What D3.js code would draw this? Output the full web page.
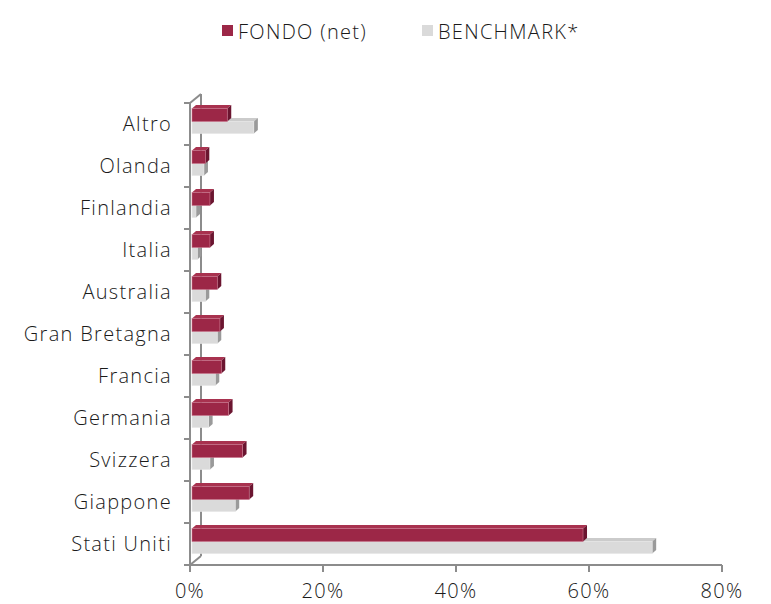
<!DOCTYPE html>
<html>
<head>
<meta charset="utf-8">
<script src="https://cdn.jsdelivr.net/npm/d3@7"></script>
<style>
  body { margin: 0; background: #fff; }
  svg text { font-family: "Open Sans", sans-serif; font-weight: 300; fill: #1a1a1a;
             font-size: 20px; letter-spacing: 1.3px; }
</style>
</head>
<body>
<svg id="chart" width="771" height="604"></svg>
<script>
// ---- Dati
const categories = ["Altro", "Olanda", "Finlandia", "Italia", "Australia", "Gran Bretagna",
                    "Francia", "Germania", "Svizzera", "Giappone", "Stati Uniti"];
const fondo     = [5.3, 2.0, 2.7, 2.7, 3.8, 4.2, 4.4, 5.5, 7.6, 8.6, 58.8];
const benchmark = [9.3, 1.8, 0.6, 0.8, 2.0, 3.8, 3.5, 2.5, 2.7, 6.5, 69.2];
const xTicks = [0, 20, 40, 60, 80];
const seriesNames = ["FONDO (net)", "BENCHMARK*"];

const svg = d3.select("#chart");
const axisColor = "#8c8c8c";

// ---- Scale
const mapX = d3.scaleLinear().domain([0, 80]).range([190, 722]);
const mapY = d3.scaleBand().domain(categories).range([103, 565]);
const depth = { dx: 11, dy: -9 };      // profondita della parete
const barDepth = { dx: 4, dy: -3.5 };  // profondita delle barre
const bx = 2;

// ---- Parete / assi 3D
svg.append("line") // linea posteriore
    .attr("x1", mapX(0) + depth.dx).attr("y1", 103 + depth.dy)
    .attr("x2", mapX(0) + depth.dx).attr("y2", 565 + depth.dy)
    .attr("stroke", axisColor).attr("stroke-width", 2);
svg.append("line")
    .attr("x1", mapX(0)).attr("y1", 103)
    .attr("x2", mapX(0) + depth.dx).attr("y2", 103 + depth.dy)
    .attr("stroke", axisColor).attr("stroke-width", 2);
svg.append("line")
    .attr("x1", mapX(0)).attr("y1", 565)
    .attr("x2", mapX(0) + depth.dx).attr("y2", 565 + depth.dy)
    .attr("stroke", axisColor).attr("stroke-width", 2);

// ---- Barre 3D
function bar3d(g, x0, x1, y0, y1, cols) {
    const { dx, dy } = barDepth;
    g.append("path") // lato superiore
        .attr("d", `M${x0},${y0}L${x0 + dx},${y0 + dy}L${x1 + dx},${y0 + dy}L${x1},${y0}Z`)
        .attr("fill", cols.top);
    g.append("path") // lato destro
        .attr("d", `M${x1},${y0}L${x1 + dx},${y0 + dy}L${x1 + dx},${y1 + dy}L${x1},${y1}Z`)
        .attr("fill", cols.side);
    g.append("rect")
        .attr("x", x0).attr("y", y0)
        .attr("width", Math.max(0, x1 - x0)).attr("height", y1 - y0)
        .attr("fill", cols.front)
        .attr("stroke", cols.edge).attr("stroke-width", 0.6);
}

const redCols   = { front: "#9c2747", top: "#a8324f", side: "#6b1530", edge: "#c9728a" };
const greyCols  = { front: "#dadada", top: "#cbcbcb", side: "#9a9a9a", edge: "#e6e6e6" };

const bars = svg.append("g");
categories.forEach((c, i) => {
    const y = mapY(c);
    const g = bars.append("g");
    bar3d(g, mapX(0) + bx, mapX(benchmark[i]) + bx, y + 18.5, y + 30.5, greyCols);
    bar3d(g, mapX(0) + bx, mapX(fondo[i]) + bx, y + 5.5, y + 18.5, redCols);
});

// ---- Asse Y
svg.append("line")
    .attr("x1", mapX(0)).attr("y1", 103)
    .attr("x2", mapX(0)).attr("y2", 572)
    .attr("stroke", axisColor).attr("stroke-width", 2);
const yTickPos = categories.map(c => mapY(c)).concat([565]);
svg.append("g").selectAll("line")
    .data(yTickPos)
    .enter()
    .append("line")
    .attr("x1", mapX(0) - 6).attr("x2", mapX(0))
    .attr("y1", d => d).attr("y2", d => d)
    .attr("stroke", axisColor).attr("stroke-width", 2);
svg.append("g").selectAll("text")
    .data(categories)
    .enter()
    .append("text")
    .attr("x", 172)
    .attr("y", d => mapY(d) + mapY.bandwidth() / 2 + 7)
    .attr("text-anchor", "end")
    .text(d => d);

// ---- Asse X
svg.append("line")
    .attr("x1", mapX(0) - 6).attr("y1", 565)
    .attr("x2", mapX(80)).attr("y2", 565)
    .attr("stroke", axisColor).attr("stroke-width", 2);
svg.append("g").selectAll("line")
    .data(xTicks)
    .enter()
    .append("line")
    .attr("x1", d => mapX(d)).attr("x2", d => mapX(d))
    .attr("y1", 565).attr("y2", 572)
    .attr("stroke", axisColor).attr("stroke-width", 2);
svg.append("g").selectAll("text")
    .data(xTicks)
    .enter()
    .append("text")
    .attr("x", d => mapX(d))
    .attr("y", 598)
    .attr("text-anchor", "middle")
    .text(d => d + "%");

// ---- Legenda
const legendX = [222, 422];
const legendCols = ["#9c2747", "#dadada"];
seriesNames.forEach((s, i) => {
    svg.append("rect")
        .attr("x", legendX[i]).attr("y", 25)
        .attr("width", 11).attr("height", 11)
        .attr("fill", legendCols[i]);
    svg.append("text")
        .attr("x", legendX[i] + 16).attr("y", 39)
        .text(s);
});
</script>
</body>
</html>
